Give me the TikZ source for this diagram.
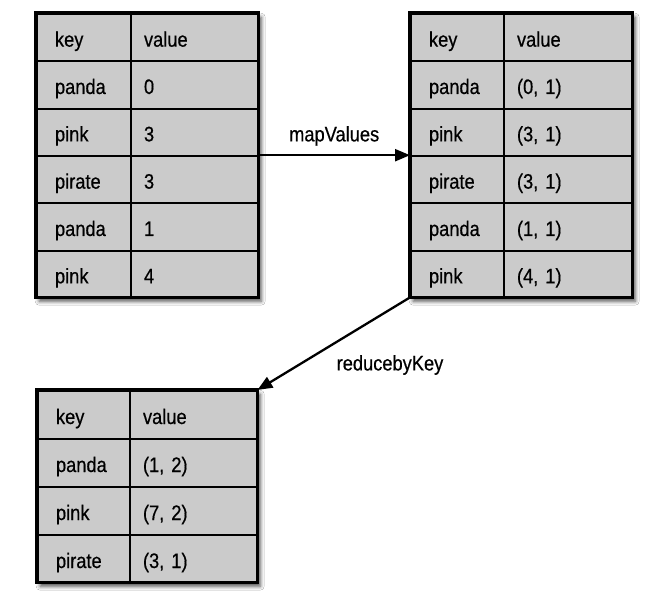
\documentclass[tikz,border=0pt]{standalone}
\usepackage{fontspec}
\setmainfont[FakeStretch=0.87, FakeBold=0.5]{Liberation Sans}
\usetikzlibrary{arrows.meta,shadows.blur}
\definecolor{cellgray}{RGB}{203,203,203}
\newcommand{\cellfont}{\fontsize{21}{24}\selectfont}
\tikzset{
	frame/.style = {fill = cellgray, anchor = north west, inner sep = 0pt, blur shadow = {shadow xshift = 3pt, shadow yshift = -4pt, shadow blur radius = 4pt, shadow opacity = 70}},
	keycell/.style = {draw, line width = 2pt, fill = cellgray, anchor = north west, align = left, inner ysep = 0pt, inner xsep = 18pt, text height = 18pt, text depth = 0pt, font = \cellfont},
	valcell/.style = {keycell, inner xsep = 13pt},
	flow/.style = {line width = 2.3pt, -{Triangle[length = 15pt, width = 12pt]}}
}
\begin{document}
\begin{tikzpicture} [x = 1pt, y = 1pt]
	\useasboundingbox [fill = white] (0,0) rectangle (661,-592);
	% first rdd
	\node [frame, minimum width = 222pt, minimum height = 284pt] (rddA) at (36,-13) {};
	\foreach \k/\v [count = \r from 0] in {key/value, panda/0, pink/3, pirate/3, panda/1, pink/4} {
		\node [keycell, text width = 58pt, minimum height = 47.33pt] (a\r k) at (36,-13-47.33*\r) {\k};
		\node [valcell, text width = 102pt, minimum height = 47.33pt] (a\r v) at (130,-13-47.33*\r) {\v};
	}
	\draw [line width = 3.2pt] (rddA.north west) rectangle (rddA.south east);
	% after mapValues
	\node [frame, minimum width = 222pt, minimum height = 284pt] (rddB) at (410,-13) {};
	\foreach \k/\v [count = \r from 0] in {key/value, panda/{(0, 1)}, pink/{(3, 1)}, pirate/{(3, 1)}, panda/{(1, 1)}, pink/{(4, 1)}} {
		\node [keycell, text width = 57pt, minimum height = 47.33pt] (b\r k) at (410,-13-47.33*\r) {\k};
		\node [valcell, text width = 103pt, minimum height = 47.33pt] (b\r v) at (503,-13-47.33*\r) {\v};
	}
	\draw [line width = 3.2pt] (rddB.north west) rectangle (rddB.south east);
	% after reducebyKey
	\node [frame, minimum width = 220pt, minimum height = 192pt] (rddC) at (37,-390) {};
	\foreach \k/\v [count = \r from 0] in {key/value, panda/{(1, 2)}, pink/{(7, 2)}, pirate/{(3, 1)}} {
		\node [keycell, text width = 56pt, minimum height = 48pt] (c\r k) at (37,-390-48*\r) {\k};
		\node [valcell, text width = 102pt, minimum height = 48pt] (c\r v) at (129,-390-48*\r) {\v};
	}
	\draw [line width = 3.2pt] (rddC.north west) rectangle (rddC.south east);
	\draw [flow] (rddA.east) -- node [above = 5pt, font = \cellfont] (mapLbl) {mapValues} (rddB.west);
	\draw [flow] (rddB.south west) -- (rddC.north east);
	\node [font = \cellfont] (reduceLbl) at (390,-365) {reducebyKey};
\end{tikzpicture}
\end{document}
